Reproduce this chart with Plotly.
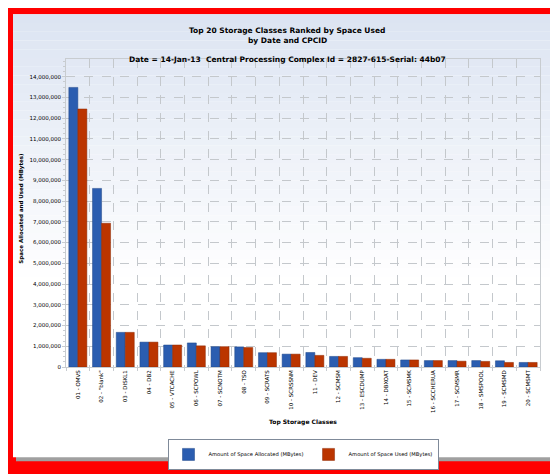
import plotly.graph_objs as go

classes = [
    "01 - OMVS", "02 - \"blank\"", "03 - DISKL1", "04 - DB2", "05 - VTCACHE",
    "06 - SCPOWL", "07 - SCNOTM", "08 - TSO", "09 - SCRATS", "10 - SCRSSNM",
    "11 - DEV", "12 - SCMSM", "13 - ESCDUMP", "14 - DBXOAT", "15 - SCMSMK",
    "16 - SCCHERUA", "17 - SCMSMR", "18 - SMSPOOL", "19 - SCMSMD", "20 - SCMSMT",
]
allocated = [
    13480000, 8610000, 1670000, 1200000, 1060000,
    1160000, 980000, 970000, 690000, 620000,
    700000, 510000, 450000, 370000, 340000,
    310000, 310000, 310000, 300000, 220000,
]
used = [
    12440000, 6930000, 1670000, 1200000, 1060000,
    1020000, 980000, 940000, 690000, 620000,
    560000, 510000, 420000, 370000, 340000,
    310000, 280000, 270000, 220000, 220000,
]
y_ticks = list(range(0, 14000001, 1000000))
y_tick_labels = [f"{v:,}" for v in y_ticks]

W, H = 558, 474
L, R, T, B = 58, 26, 51, 106
pw, ph = W - L - R, H - T - B

def px(x):
    return (x - L) / pw

def py(y):
    return (H - B - y) / ph

FONT = "DejaVu Sans"

fig = go.Figure()
fig.add_trace(go.Bar(x=classes, y=allocated, name="Amount of Space Allocated (MBytes)",
                     marker=dict(color="#2b5db0", line=dict(color="#1d4486", width=0.5))))
fig.add_trace(go.Bar(x=classes, y=used, name="Amount of Space Used (MBytes)",
                     marker=dict(color="#bb3500", line=dict(color="#8c2800", width=0.5))))

# panel shadow, then a soft blue-to-white gradient made of thin bands
shapes = [
    dict(type="rect", xref="paper", yref="paper", layer="below",
         x0=px(8), x1=px(553), y0=py(465), y1=py(8),
         fillcolor="#a0a0a0", line=dict(width=0)),
    dict(type="rect", xref="paper", yref="paper", layer="below",
         x0=px(5), x1=px(550), y0=py(461), y1=py(5),
         fillcolor="#ffffff", line=dict(width=0)),
]
n = 30
for i in range(n):
    t = i / n
    r = round(0xdc + (0xff - 0xdc) * t)
    g = round(0xe4 + (0xff - 0xe4) * t)
    b = round(0xf2 + (0xff - 0xf2) * t)
    shapes.append(dict(type="rect", xref="paper", yref="paper", layer="below",
                       x0=px(5), x1=px(550), y0=py(5 + (i + 1) * 9), y1=py(5 + i * 9),
                       fillcolor=f"rgb({r},{g},{b})", line=dict(width=0)))

annotations = [
    dict(text="<b>Top 20 Storage Classes Ranked by Space Used</b>", x=px(279), y=py(15),
         xref="paper", yref="paper", showarrow=False, font=dict(size=7.5, family=FONT)),
    dict(text="<b>by Date and CPCID</b>", x=px(279), y=py(25),
         xref="paper", yref="paper", showarrow=False, font=dict(size=7.5, family=FONT)),
    dict(text="<b>Date = 14-Jan-13  Central Processing Complex Id = 2827-615-Serial: 44b07</b>",
         x=px(279), y=py(45), xref="paper", yref="paper", showarrow=False,
         font=dict(size=7.5, family=FONT)),
    dict(text="<b>Top Storage Classes</b>", x=px(295), y=py(431),
         xref="paper", yref="paper", showarrow=False, font=dict(size=6, family=FONT)),
    dict(text="<b>Space Allocated and Used (MBytes)</b>", x=px(14), y=py(205), textangle=-90,
         xref="paper", yref="paper", xanchor="center", yanchor="middle", showarrow=False,
         font=dict(size=5.5, family=FONT)),
]

fig.update_layout(
    width=W, height=H,
    margin=dict(l=L, r=R, t=T, b=B),
    paper_bgcolor="#ff0000",
    plot_bgcolor="rgba(0,0,0,0)",
    barmode="group",
    bargap=0.24,
    bargroupgap=0,
    shapes=shapes,
    annotations=annotations,
    font=dict(family=FONT, size=6, color="#000"),
    legend=dict(orientation="h", x=px(295), y=py(442), xanchor="center", yanchor="top",
                bgcolor="#ffffff", bordercolor="#7f8a99", borderwidth=1,
                font=dict(size=5.2, family=FONT), itemwidth=30, tracegroupgap=0),
    showlegend=True,
)
fig.update_xaxes(
    tickson="boundaries", tickangle=-90, showgrid=True, gridcolor="#c4c8cc",
    griddash="dash", gridwidth=1, linecolor="#c8ccd0", mirror=True, showline=True,
    ticks="outside", ticklen=3, tickcolor="#c8ccd0", tickfont=dict(size=5.5),
)
fig.update_yaxes(
    range=[0, 14850000], tickvals=y_ticks, ticktext=y_tick_labels,
    showgrid=True, gridcolor="#c4c8cc", griddash="dash", gridwidth=1,
    linecolor="#c8ccd0", mirror=True, showline=True, zeroline=False,
    ticks="outside", ticklen=3, tickcolor="#c8ccd0", tickfont=dict(size=5.5),
    minor=dict(dtick=250000, ticks="outside", ticklen=2, tickcolor="#c8ccd0", showgrid=False),
)

fig.write_html("out.html")
